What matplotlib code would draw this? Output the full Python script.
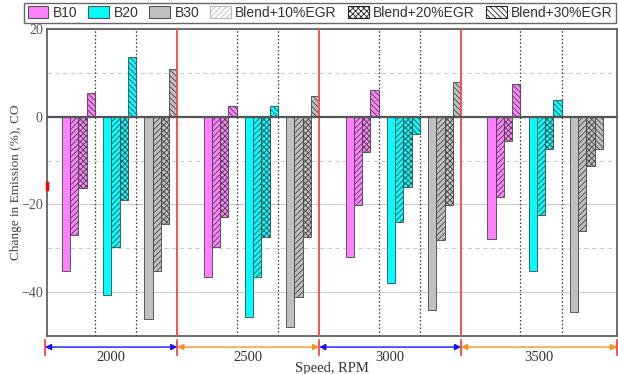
import matplotlib
matplotlib.use('Agg')
import matplotlib.pyplot as plt
from matplotlib.patches import Patch

speeds = ['2000', '2500', '3000', '3500']
fuels = ['B10', 'B20', 'B30']
legend_labels = ['B10', 'B20', 'B30', 'Blend+10%EGR', 'Blend+20%EGR', 'Blend+30%EGR']

# per speed: [blend, +10%EGR, +20%EGR, +30%EGR]
b10 = [[-35.2, -27.0, -16.2, 5.5],
       [-36.5, -29.7, -22.8, 2.4],
       [-32.1, -20.2, -8.0, 6.1],
       [-27.8, -18.4, -5.5, 7.5]]
b20 = [[-40.7, -29.8, -19.0, 13.7],
       [-45.7, -36.5, -27.4, 2.4],
       [-38.0, -24.1, -16.0, -3.9],
       [-35.2, -22.3, -7.4, 3.8]]
b30 = [[-46.2, -35.2, -24.5, 10.9],
       [-47.9, -41.1, -27.4, 4.7],
       [-44.0, -28.2, -20.2, 8.0],
       [-44.5, -26.1, -11.3, -7.4]]
data = [b10, b20, b30]

fuel_colors = ['#FF80FF', '#00FFFF', '#C0C0C0']
hatches = [None, '//////', 'xxxxxx', '\\\\\\\\\\\\']

plt.rcParams['hatch.linewidth'] = 0.6

fig = plt.figure(figsize=(6.18, 3.74), dpi=100)
ax = fig.add_axes([47/618, 1-336/374, 570/618, 307/374])

bw = 1.0
cluster_step = 5.0
group_step = 17.2

for g in range(len(speeds)):
    for f in range(len(fuels)):
        left = g*group_step + f*cluster_step
        for k in range(4):
            ax.bar(left + k*bw + bw/2, data[f][g][k], width=bw,
                   color=fuel_colors[f], edgecolor='#444444', linewidth=0.6,
                   hatch=hatches[k], zorder=3)
        right = left + 4*bw
        if f < 2:
            ax.axvline(right, color='#333333', ls=(0, (1.2, 1.8)), lw=0.9, zorder=2)
        elif g < len(speeds)-1:
            ax.axvline(right, color='#FF5050', lw=1.4, zorder=4)

xl = -1.8
xr = (len(speeds)-1)*group_step + 2*cluster_step + 4*bw + 1.7
ax.set_xlim(xl, xr)
ax.set_ylim(-50, 20)

ax.set_yticks([20, 0, -20, -40])
ax.set_yticks([10, -10, -30], minor=True)
ax.set_xticks([])
ax.tick_params(axis='y', which='both', length=0, pad=3, labelsize=10, labelcolor='#555555')
for lab in ax.get_yticklabels():
    lab.set_family('Liberation Serif')
ax.grid(axis='y', which='major', color='#CCCCCC', lw=0.8, zorder=0)
ax.grid(axis='y', which='minor', color='#CCCCCC', lw=0.8, ls=(0, (4, 3)), zorder=0)
ax.axhline(0, color='#555555', lw=1.6, zorder=5)
for s in ax.spines.values():
    s.set_color('#555555')
    s.set_linewidth(1.2)

ax.set_ylabel('Change in Emission (%), CO', family='Liberation Serif', fontsize=9.5,
              color='#444444', labelpad=-1)

# red marker on the left spine
ax.plot([xl, xl], [-15.1, -16.4], color='red', lw=2.5, clip_on=False, zorder=6)

# speed annotation below axis
trans = ax.get_xaxis_transform()
bounds = [xl - 0.25] + [g*group_step + 2*cluster_step + 4*bw for g in range(len(speeds)-1)] + [xr]
arrow_colors = ['#1010FF', '#FF9020', '#1010FF', '#FF9020']
for i, sp in enumerate(speeds):
    a, b = bounds[i], bounds[i+1]
    ax.annotate('', xy=(b, -0.036), xytext=(a, -0.036), xycoords=trans, textcoords=trans,
                arrowprops=dict(arrowstyle='<|-|>', color=arrow_colors[i], lw=1.0,
                                mutation_scale=9, shrinkA=0, shrinkB=0),
                annotation_clip=False)
    ax.text((a+b)/2, -0.07, sp, transform=trans, ha='center', va='center',
            family='Liberation Serif', fontsize=10.5, color='#333333')
for x in bounds:
    ax.plot([x, x], [-0.012, -0.062], transform=trans, color='#FF3030', lw=1.2,
            clip_on=False, zorder=6)
ax.text(0.5, -0.105, 'Speed, RPM', transform=ax.transAxes, ha='center', va='center',
        family='Liberation Serif', fontsize=10.5, color='#333333')

handles = [Patch(facecolor=fuel_colors[0], edgecolor='#555555', lw=0.8),
           Patch(facecolor=fuel_colors[1], edgecolor='#555555', lw=0.8),
           Patch(facecolor=fuel_colors[2], edgecolor='#555555', lw=0.8),
           Patch(facecolor='white', edgecolor='#BBBBBB', hatch='//////', lw=0.8),
           Patch(facecolor='white', edgecolor='#222222', hatch='xxxxxx', lw=0.8),
           Patch(facecolor='white', edgecolor='#222222', hatch='\\\\\\\\\\\\', lw=0.8)]
leg = fig.legend(handles, legend_labels, ncol=6, loc='center',
                 bbox_to_anchor=(320/618, 1-13/374), frameon=True, fancybox=False,
                 edgecolor='#666666', framealpha=1,
                 prop={'family': 'Liberation Sans', 'size': 10},
                 handlelength=1.5, handleheight=1.0, handletextpad=0.3,
                 columnspacing=0.8, borderpad=0.25, borderaxespad=0)
leg.get_frame().set_linewidth(1.0)
for t in leg.get_texts():
    t.set_color('#333333')

fig.savefig('out.png', dpi=100)
